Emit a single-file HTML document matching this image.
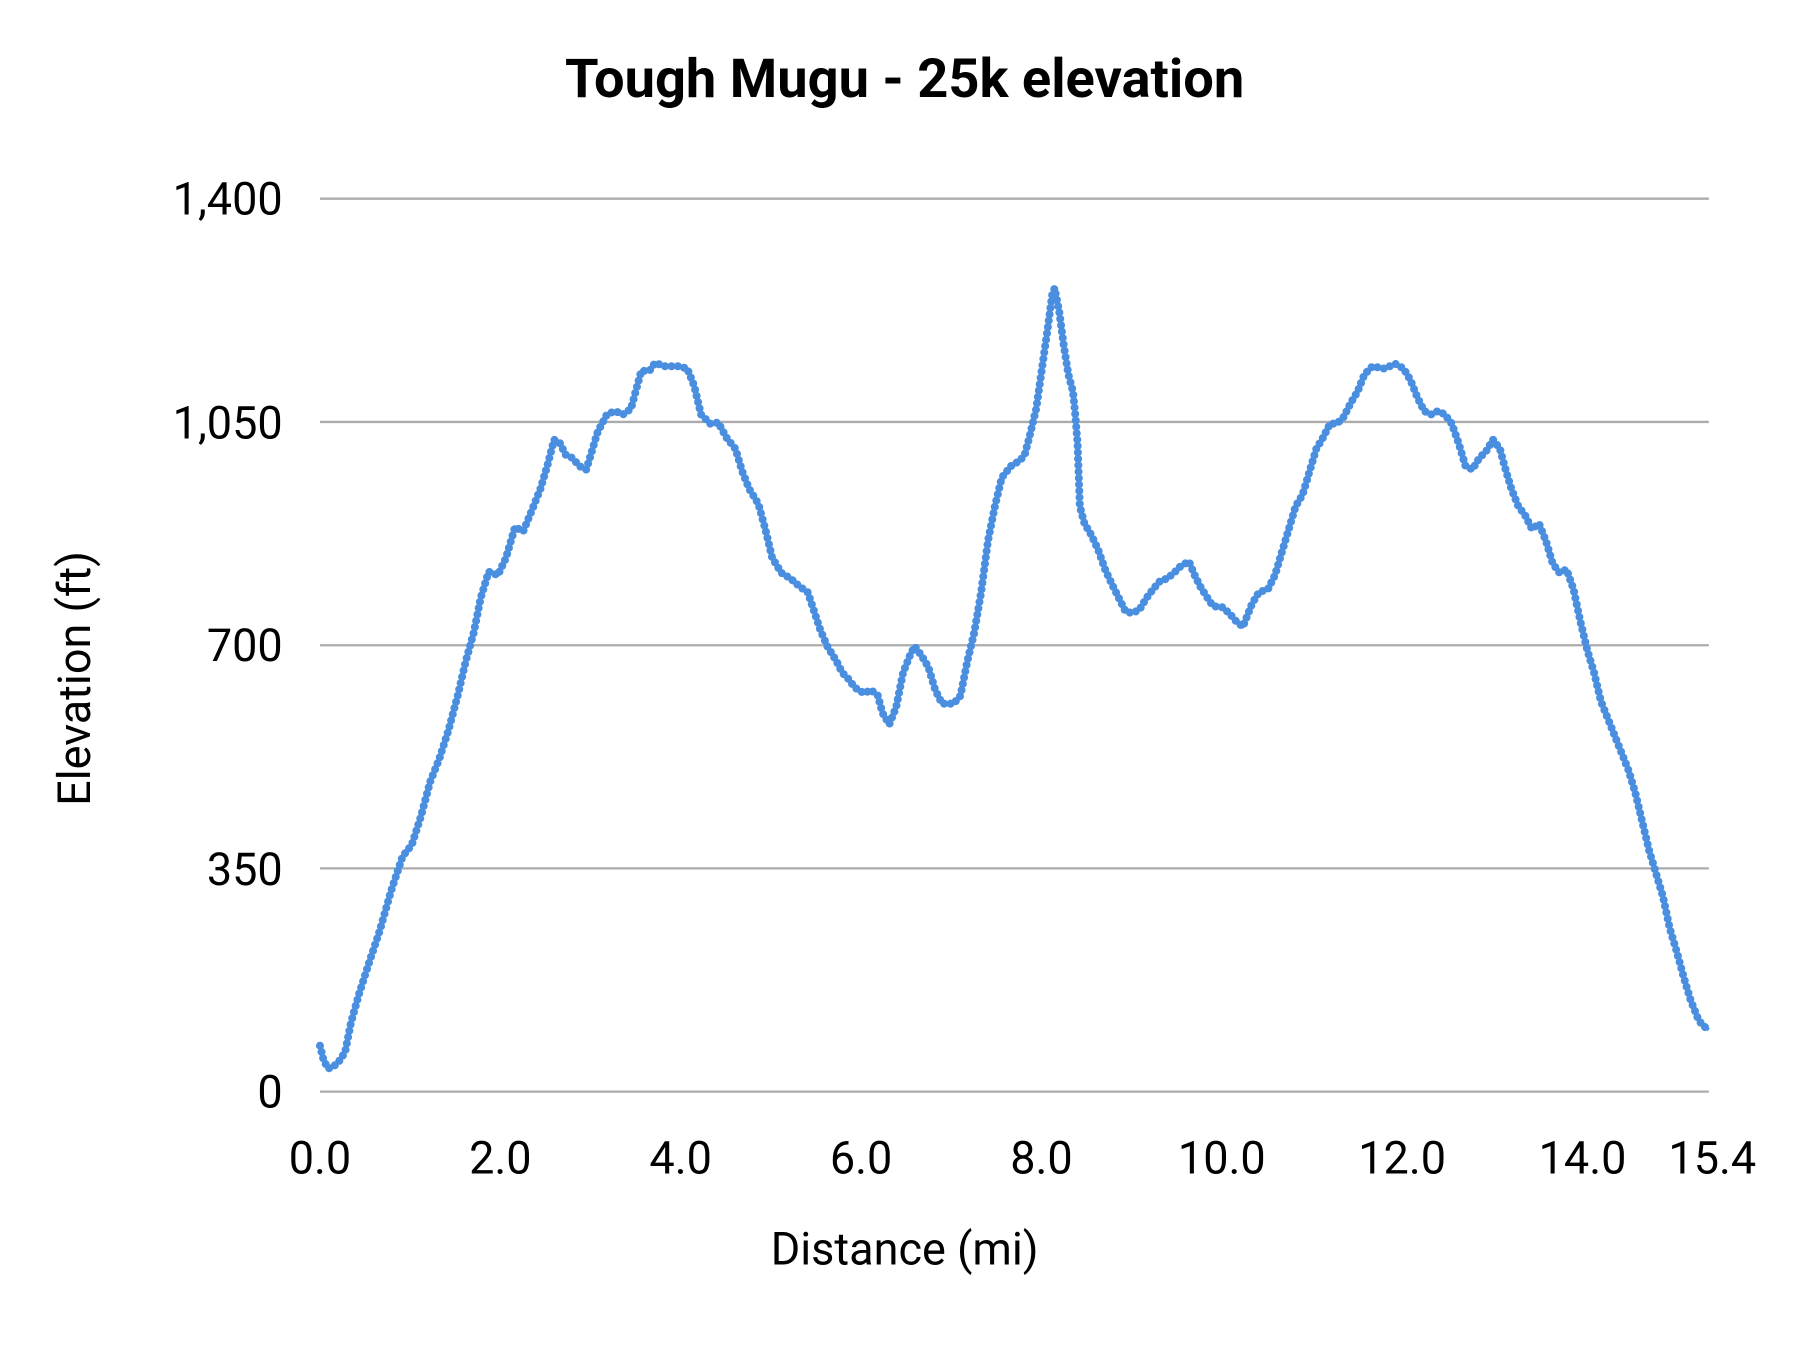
<!DOCTYPE html>
<html><head><meta charset="utf-8"><style>
html,body{margin:0;padding:0;background:#fff}
svg{display:block}
text{font-family:"Roboto","Liberation Sans",sans-serif;fill:#000}
</style></head><body>
<svg width="1800" height="1350" viewBox="0 0 1560 1170" xmlns="http://www.w3.org/2000/svg">
<rect width="1560" height="1170" fill="#fff"/>
<text x="784" y="84" font-size="47" font-weight="bold" text-anchor="middle">Tough Mugu - 25k elevation</text>
<g stroke="#ababab" stroke-width="2">
<line x1="277.3" x2="1481" y1="172.2" y2="172.2"/>
<line x1="277.3" x2="1481" y1="365.7" y2="365.7"/>
<line x1="277.3" x2="1481" y1="559.2" y2="559.2"/>
<line x1="277.3" x2="1481" y1="752.6" y2="752.6"/>
<line x1="277.3" x2="1481" y1="946.1" y2="946.1"/>
</g>
<g font-size="39" text-anchor="end">
<text x="245" y="186">1,400</text>
<text x="245" y="380">1,050</text>
<text x="245" y="573">700</text>
<text x="245" y="767">350</text>
<text x="245" y="960">0</text>
</g>
<g font-size="39" text-anchor="middle">
<text x="277.3" y="1017">0.0</text>
<text x="433.6" y="1017">2.0</text>
<text x="589.9" y="1017">4.0</text>
<text x="746.3" y="1017">6.0</text>
<text x="902.6" y="1017">8.0</text>
<text x="1058.9" y="1017">10.0</text>
<text x="1215.2" y="1017">12.0</text>
<text x="1371.5" y="1017">14.0</text>
<text x="1484" y="1017">15.4</text>
</g>
<text x="784" y="1096" font-size="39" text-anchor="middle">Distance (mi)</text>
<text transform="translate(78,588) rotate(-90)" font-size="39" text-anchor="middle">Elevation (ft)</text>
<g transform="matrix(0.9948,0,0,0.9947,0.75,1.11)" fill="none" stroke="#4a8ee0" stroke-linejoin="round">
<polyline stroke-width="3" points="278,910 281,922 285,930 290,928 296,922 300,915 305,890 312,865 320,840 330,810 340,775 350,745 358,735 366,710 374,680 382,660 390,635 398,605 405,575 412,550 418,520 425,497 433,500 440,485 448,458 455,462 462,445 470,425 476,405 482,382 487,385 492,395 498,398 504,405 510,408 514,395 520,375 528,360 535,357 542,360 549,355 553,340 558,322 565,322 570,315 578,318 590,318 598,320 604,335 610,360 618,368 625,367 632,380 640,390 646,410 652,425 660,438 666,460 672,485 680,498 688,503 696,510 703,515 708,530 714,548 720,562 728,575 733,585 738,590 744,598 752,603 758,600 764,605 768,620 774,630 780,615 786,585 792,570 796,562 802,570 808,580 814,600 820,612 830,612 836,605 842,575 848,550 854,515 860,470 866,440 872,415 880,405 888,400 892,395 896,380 902,355 907,320 912,285 916,255 918,250 922,270 926,300 930,325 934,340 936,360 938,385 940,440 944,455 950,465 956,478 962,495 968,508 974,520 980,532 986,533 992,530 998,520 1004,512 1010,505 1016,503 1022,498 1028,492 1035,488 1040,500 1045,510 1050,518 1056,527 1064,528 1070,533 1076,540 1082,545 1086,535 1090,525 1096,515 1104,512 1110,500 1116,480 1122,460 1128,440 1134,430 1140,410 1146,390 1152,380 1158,368 1164,368 1170,362 1176,350 1182,340 1188,325 1195,318 1205,320 1215,316 1222,320 1228,330 1234,345 1240,357 1246,360 1252,357 1258,360 1264,368 1270,385 1276,405 1282,408 1288,398 1294,392 1300,382 1306,390 1310,405 1316,425 1322,440 1328,448 1334,460 1340,455 1346,470 1352,490 1358,498 1364,495 1370,512 1376,540 1382,565 1388,585 1394,610 1400,625 1406,640 1412,655 1418,670 1424,690 1430,715 1436,740 1442,760 1448,780 1454,808 1460,828 1466,850 1472,870 1478,885 1482,892 1488,896"/>
<polyline stroke-width="7" stroke-linecap="round" stroke-dasharray="0 5.6" points="278,910 281,922 285,930 290,928 296,922 300,915 305,890 312,865 320,840 330,810 340,775 350,745 358,735 366,710 374,680 382,660 390,635 398,605 405,575 412,550 418,520 425,497 433,500 440,485 448,458 455,462 462,445 470,425 476,405 482,382 487,385 492,395 498,398 504,405 510,408 514,395 520,375 528,360 535,357 542,360 549,355 553,340 558,322 565,322 570,315 578,318 590,318 598,320 604,335 610,360 618,368 625,367 632,380 640,390 646,410 652,425 660,438 666,460 672,485 680,498 688,503 696,510 703,515 708,530 714,548 720,562 728,575 733,585 738,590 744,598 752,603 758,600 764,605 768,620 774,630 780,615 786,585 792,570 796,562 802,570 808,580 814,600 820,612 830,612 836,605 842,575 848,550 854,515 860,470 866,440 872,415 880,405 888,400 892,395 896,380 902,355 907,320 912,285 916,255 918,250 922,270 926,300 930,325 934,340 936,360 938,385 940,440 944,455 950,465 956,478 962,495 968,508 974,520 980,532 986,533 992,530 998,520 1004,512 1010,505 1016,503 1022,498 1028,492 1035,488 1040,500 1045,510 1050,518 1056,527 1064,528 1070,533 1076,540 1082,545 1086,535 1090,525 1096,515 1104,512 1110,500 1116,480 1122,460 1128,440 1134,430 1140,410 1146,390 1152,380 1158,368 1164,368 1170,362 1176,350 1182,340 1188,325 1195,318 1205,320 1215,316 1222,320 1228,330 1234,345 1240,357 1246,360 1252,357 1258,360 1264,368 1270,385 1276,405 1282,408 1288,398 1294,392 1300,382 1306,390 1310,405 1316,425 1322,440 1328,448 1334,460 1340,455 1346,470 1352,490 1358,498 1364,495 1370,512 1376,540 1382,565 1388,585 1394,610 1400,625 1406,640 1412,655 1418,670 1424,690 1430,715 1436,740 1442,760 1448,780 1454,808 1460,828 1466,850 1472,870 1478,885 1482,892 1488,896"/>
</g>
</svg>
</body></html>
